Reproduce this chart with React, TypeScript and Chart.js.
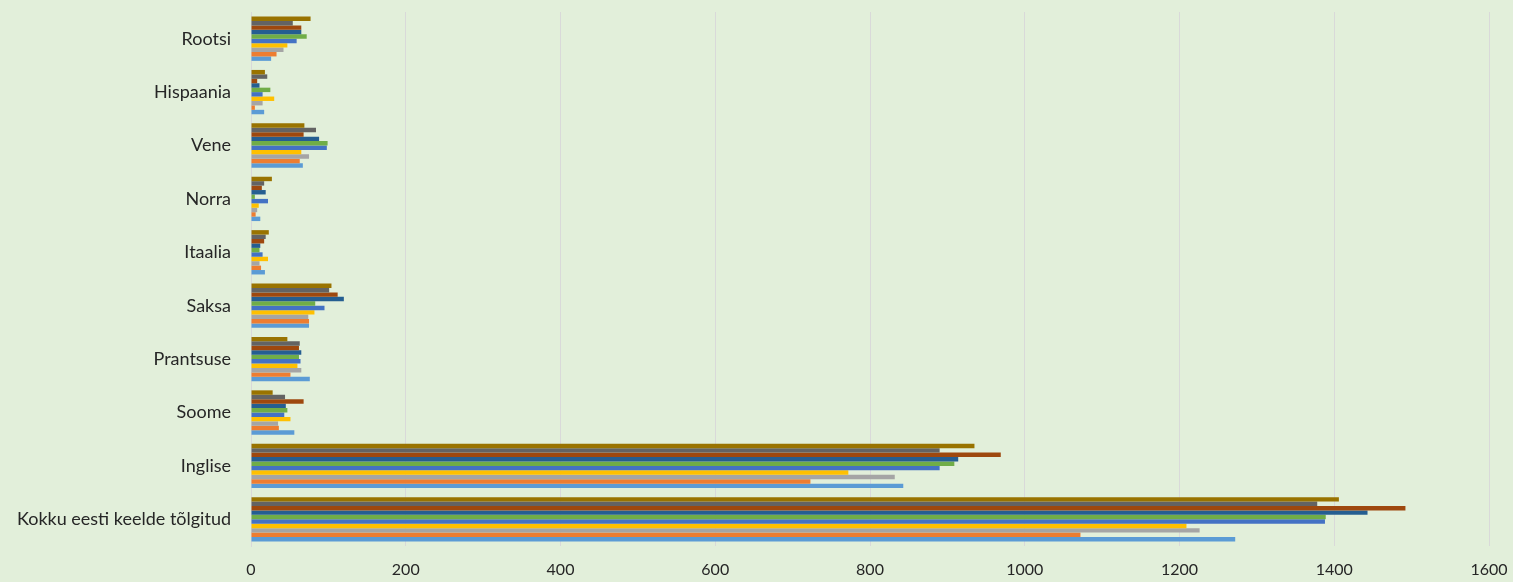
import React, { useEffect, useRef } from "react";
import { Chart, registerables } from "chart.js";

Chart.register(...registerables);

const categories = [
  "Rootsi",
  "Hispaania",
  "Vene",
  "Norra",
  "Itaalia",
  "Saksa",
  "Prantsuse",
  "Soome",
  "Inglise",
  "Kokku eesti keelde tõlgitud",
];

// Series in Excel order (series 1 drawn at the bottom of each group)
const series1 = [26, 17, 67, 12, 18, 75, 76, 56, 843, 1272];
const series2 = [33, 5, 63, 6, 13, 75, 51, 36, 723, 1072];
const series3 = [42, 15, 75, 8, 11, 74, 65, 35, 832, 1226];
const series4 = [47, 30, 65, 10, 22, 82, 60, 51, 772, 1209];
const series5 = [59, 15, 98, 22, 15, 95, 64, 43, 890, 1388];
const series6 = [72, 25, 99, 5, 11, 83, 62, 47, 909, 1389];
const series7 = [65, 11, 88, 19, 12, 120, 65, 45, 914, 1443];
const series8 = [65, 8, 68, 14, 17, 112, 62, 68, 969, 1492];
const series9 = [54, 21, 84, 17, 19, 101, 63, 44, 890, 1378];
const series10 = [77, 18, 69, 27, 23, 104, 47, 28, 935, 1406];

const seriesValues = [series1, series2, series3, series4, series5, series6, series7, series8, series9, series10];
const seriesColors = [
  "#5B9BD5",
  "#ED7D31",
  "#A5A5A5",
  "#FFC000",
  "#4472C4",
  "#70AD47",
  "#255E91",
  "#9E480E",
  "#636363",
  "#997300",
];

const xTicks = [0, 200, 400, 600, 800, 1000, 1200, 1400, 1600];

export default function App() {
  const ref = useRef<HTMLCanvasElement | null>(null);

  useEffect(() => {
    document.body.style.margin = "0";
    if (!ref.current) return;
    const datasets = seriesValues
      .map((vals, i) => ({
        label: "Seeria " + (i + 1),
        data: vals,
        backgroundColor: seriesColors[i],
        borderWidth: 0,
        barPercentage: 1,
        categoryPercentage: 0.83,
      }))
      .reverse();

    const chart = new Chart(ref.current, {
      type: "bar",
      data: { labels: categories, datasets },
      options: {
        indexAxis: "y",
        animation: false,
        responsive: false,
        maintainAspectRatio: false,
        layout: { padding: { top: 12, right: 24, left: 0, bottom: 0 } },
        plugins: { legend: { display: false }, tooltip: { enabled: false } },
        scales: {
          x: {
            min: 0,
            max: 1600,
            afterBuildTicks: (axis: any) => {
              axis.ticks = xTicks.map((v) => ({ value: v }));
            },
            afterFit: (axis: any) => {
              axis.height = 36;
              axis.paddingLeft = 0;
              axis.paddingRight = 0;
            },
            grid: { color: "#D9D9D9", lineWidth: 1, drawTicks: false },
            border: { display: false },
            ticks: {
              color: "#262626",
              font: { family: "Lato, 'Noto Sans', sans-serif", size: 16 },
              padding: 14,
              maxRotation: 0,
              callback: (v: any) => String(v),
            },
          },
          y: {
            afterFit: (axis: any) => {
              axis.width = 251;
              axis.paddingTop = 0;
              axis.paddingBottom = 0;
            },
            grid: { display: false, drawTicks: false },
            border: { display: true, color: "#D9D9D9", width: 1 },
            ticks: {
              color: "#262626",
              font: { family: "Lato, 'Noto Sans', sans-serif", size: 18 },
              padding: 20,
            },
          },
        },
      },
    });
    return () => chart.destroy();
  }, []);

  return (
    <div style={{ width: 1513, height: 582, background: "#E2EFDA" }}>
      <canvas ref={ref} width={1513} height={582} style={{ display: "block" }} />
    </div>
  );
}
